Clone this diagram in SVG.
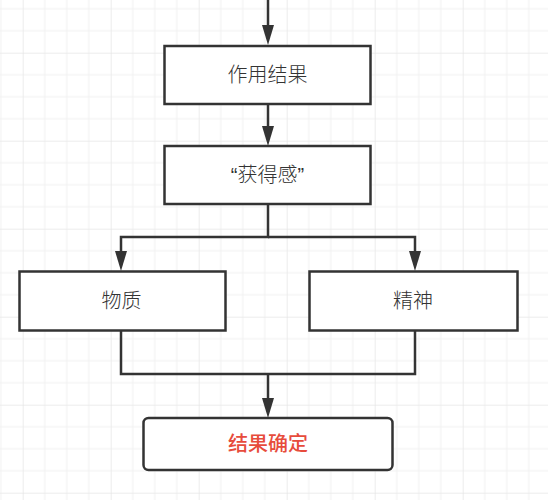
<svg xmlns="http://www.w3.org/2000/svg" width="548" height="500" viewBox="0 0 548 500">
<style>
.box{fill:#ffffff;stroke:#333333;stroke-width:2.5}
.lbl{font-family:"Liberation Sans","Noto Sans CJK SC",sans-serif;font-size:20px;font-weight:300;fill:#333333;text-anchor:middle;dominant-baseline:central}
.red{fill:#e74c3c;font-weight:500}
.con{fill:none;stroke:#333333;stroke-width:2.5}
.minor{stroke:#f0f0f0;stroke-width:1}
.major{stroke:#e6e6e6;stroke-width:1.5}
</style>
<defs>
<marker id="arr" markerUnits="userSpaceOnUse" markerWidth="20" markerHeight="12" refX="0" refY="6" orient="auto" viewBox="0 0 20 12">
<path d="M0,0 L20,6 L0,12 Z" fill="#333333"/>
</marker>
<pattern id="grid" patternUnits="userSpaceOnUse" x="22.7" y="52.7" width="88" height="88">
<path class="minor" d="M22,0 V88 M44,0 V88 M66,0 V88 M0,22 H88 M0,44 H88 M0,66 H88"/>
<path class="major" d="M0,0 V88 M0,0 H88"/>
</pattern>
</defs>
<rect width="548" height="500" fill="#ffffff"/>
<rect width="548" height="500" fill="url(#grid)"/>
<g id="connectors">
<path class="con" d="M268,0 V25" marker-end="url(#arr)"/>
<path class="con" d="M268,104 V126" marker-end="url(#arr)"/>
<path class="con" d="M268,204 V237 H121 V251" marker-end="url(#arr)"/>
<path class="con" d="M268,237 H415 V251" marker-end="url(#arr)"/>
<path class="con" d="M121,331 V374 H415 V331"/>
<path class="con" d="M268,374 V398" marker-end="url(#arr)"/>
</g>
<g id="n1">
<rect class="box" x="164.5" y="46" width="206" height="58"/>
<text class="lbl" x="267.5" y="75">作用结果</text>
</g>
<g id="n2">
<rect class="box" x="164.5" y="146" width="206" height="58"/>
<text class="lbl" x="267.5" y="175">“获得感”</text>
</g>
<g id="n3">
<rect class="box" x="19.5" y="271.5" width="206" height="59"/>
<text class="lbl" x="121.5" y="301">物质</text>
</g>
<g id="n4">
<rect class="box" x="309.5" y="271.5" width="208" height="59"/>
<text class="lbl" x="413" y="301">精神</text>
</g>
<g id="n5">
<rect class="box" x="143.5" y="418" width="249" height="52" rx="5"/>
<text class="lbl red" x="268" y="444">结果确定</text>
</g>
</svg>
